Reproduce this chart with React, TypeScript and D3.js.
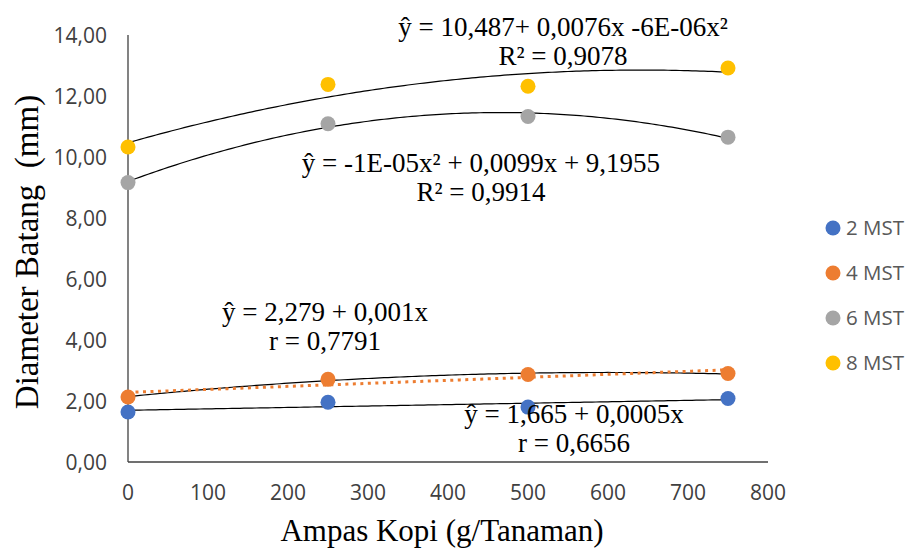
import React from "react";
import * as d3 from "d3";

const doses = [0, 250, 500, 750];
const mst2 = [1.64, 1.96, 1.8, 2.08];
const mst4 = [2.13, 2.71, 2.87, 2.9];
const mst6 = [9.16, 11.09, 11.33, 10.65];
const mst8 = [10.33, 12.38, 12.32, 12.92];
const seriesNames = ["2 MST", "4 MST", "6 MST", "8 MST"];
const seriesColors = ["#4472C4", "#ED7D31", "#A5A5A5", "#FFC000"];
const xTicks = [0, 100, 200, 300, 400, 500, 600, 700, 800];
const yTicks = [0, 2, 4, 6, 8, 10, 12, 14];

const eq8 = ["ŷ = 10,487+ 0,0076x -6E-06x²", "R² = 0,9078"];
const eq6 = ["ŷ = -1E-05x² + 0,0099x + 9,1955", "R² = 0,9914"];
const eq4 = ["ŷ = 2,279 + 0,001x", "r = 0,7791"];
const eq2 = ["ŷ = 1,665 + 0,0005x", "r = 0,6656"];

function polyfit(xs: number[], ys: number[], deg: number): number[] {
  const n = deg + 1;
  const A: number[][] = Array.from({ length: n }, () => new Array(n + 1).fill(0));
  for (let i = 0; i < xs.length; i++) {
    for (let r = 0; r < n; r++) {
      for (let c = 0; c < n; c++) A[r][c] += Math.pow(xs[i], r + c);
      A[r][n] += ys[i] * Math.pow(xs[i], r);
    }
  }
  for (let i = 0; i < n; i++) {
    let p = i;
    for (let k = i + 1; k < n; k++) if (Math.abs(A[k][i]) > Math.abs(A[p][i])) p = k;
    [A[i], A[p]] = [A[p], A[i]];
    for (let k = i + 1; k < n; k++) {
      const f = A[k][i] / A[i][i];
      for (let j = i; j <= n; j++) A[k][j] -= f * A[i][j];
    }
  }
  const coef = new Array(n).fill(0);
  for (let i = n - 1; i >= 0; i--) {
    let s = A[i][n];
    for (let j = i + 1; j < n; j++) s -= A[i][j] * coef[j];
    coef[i] = s / A[i][i];
  }
  return coef;
}

const evalPoly = (c: number[], x: number) => c.reduce((s, v, i) => s + v * Math.pow(x, i), 0);

export default function App() {
  const W = 908, H = 549;
  const x = d3.scaleLinear().domain([0, 800]).range([128, 768]);
  const y = d3.scaleLinear().domain([0, 14]).range([462, 35]);
  const xs = d3.range(0, 750.001, 5);
  const line = d3.line<[number, number]>().x((d) => x(d[0])).y((d) => y(d[1])).curve(d3.curveLinear);

  const fitPath = (ys: number[], deg: number) => {
    const c = polyfit(doses, ys, deg);
    return line(xs.map((v) => [v, evalPoly(c, v)] as [number, number])) || "";
  };

  const all = [mst2, mst4, mst6, mst8];
  const serif = "'Liberation Serif', 'Times New Roman', serif";
  const sans = "'Open Sans', 'Liberation Sans', sans-serif";

  const eqText = (lines: string[], cx: number, by: number, key: string) => (
    <g key={key}>
      {lines.map((t, i) => (
        <text key={i} x={cx} y={by + i * 29} textAnchor="middle" fontFamily={serif} fontSize={27} fill="#000">
          {t}
        </text>
      ))}
    </g>
  );

  return (
    <svg width={W} height={H} style={{ position: "absolute", left: 0, top: 0, background: "#fff" }}>
      {/* axes */}
      <line x1={x(0)} x2={x(0)} y1={y(14)} y2={y(0)} stroke="#404040" strokeWidth={1.3} />
      <line x1={x(0)} x2={x(800)} y1={y(0)} y2={y(0)} stroke="#404040" strokeWidth={1.3} />
      {yTicks.map((t) => (
        <text key={"y" + t} x={107} y={y(t) + 7.5} textAnchor="end" fontFamily={sans} fontSize={21} fill="#404040">
          {t.toFixed(2).replace(".", ",")}
        </text>
      ))}
      {xTicks.map((t) => (
        <text key={"x" + t} x={x(t)} y={500} textAnchor="middle" fontFamily={sans} fontSize={21} fill="#404040">
          {t}
        </text>
      ))}
      {/* trendlines */}
      <path d={fitPath(mst2, 1)} fill="none" stroke="#000" strokeWidth={1.2} />
      <path d={fitPath(mst4, 2)} fill="none" stroke="#000" strokeWidth={1.2} />
      <path d={fitPath(mst4, 1)} fill="none" stroke="#ED7D31" strokeWidth={3} strokeDasharray="3 4.5" />
      <path d={fitPath(mst6, 2)} fill="none" stroke="#000" strokeWidth={1.2} />
      <path d={fitPath(mst8, 2)} fill="none" stroke="#000" strokeWidth={1.2} />
      {/* points */}
      {all.map((s, si) =>
        s.map((v, i) => (
          <circle key={si + "-" + i} cx={x(doses[i])} cy={y(v)} r={7.5} fill={seriesColors[si]} />
        ))
      )}
      {/* equations */}
      {eqText(eq8, 563, 36, "e8")}
      {eqText(eq6, 481, 172, "e6")}
      {eqText(eq4, 325, 321, "e4")}
      {eqText(eq2, 574, 423, "e2")}
      {/* axis titles */}
      <text x={442} y={541} textAnchor="middle" fontFamily={serif} fontSize={31} fill="#000">
        Ampas Kopi (g/Tanaman)
      </text>
      <text
        transform={`translate(38, 252) rotate(-90)`}
        textAnchor="middle"
        fontFamily={serif}
        fontSize={33}
        fill="#000"
        style={{ whiteSpace: "pre" }}
      >
        {"Diameter Batang  (mm)"}
      </text>
      {/* legend */}
      {seriesNames.map((n, i) => (
        <g key={n}>
          <circle cx={833} cy={228 + i * 45} r={7.5} fill={seriesColors[i]} />
          <text x={846} y={228 + i * 45 + 7} fontFamily={sans} fontSize={20.5} fill="#595959">
            {n}
          </text>
        </g>
      ))}
    </svg>
  );
}
